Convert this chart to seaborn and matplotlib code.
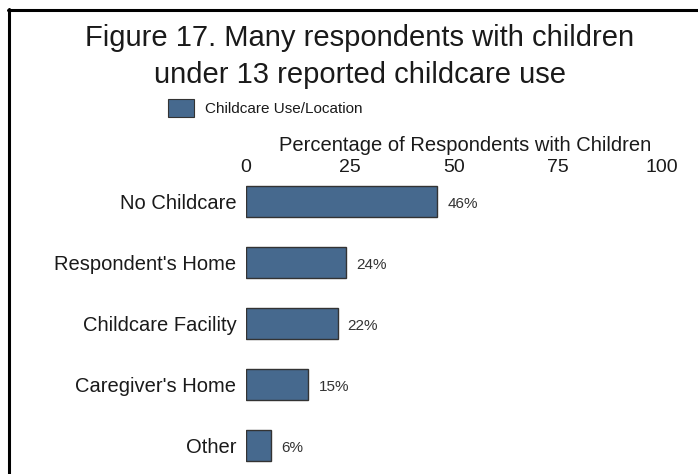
import matplotlib
matplotlib.use("Agg")
import matplotlib.pyplot as plt
from matplotlib.lines import Line2D
from matplotlib.patches import Patch
import seaborn as sns
import pandas as pd

categories = ["No Childcare", "Respondent's Home", "Childcare Facility",
              "Caregiver's Home", "Other"]
percentages = [46, 24, 22, 15, 6]
x_ticks = [0, 25, 50, 75, 100]

title_lines = ["Figure 17. Many respondents with children",
               "under 13 reported childcare use"]
legend_label = "Childcare Use/Location"
axis_label = "Percentage of Respondents with Children"

bar_color = "#46698e"
text_color = "#1a1a1a"

sns.set_theme(style="white")
plt.rcParams["font.family"] = ["Liberation Sans", "DejaVu Sans"]

df = pd.DataFrame({"category": categories, "pct": percentages})

W, H = 698, 474
fig = plt.figure(figsize=(W / 100, H / 100), dpi=100)
ax = fig.add_axes([246 / W, 1 - 470 / H, (662 - 246) / W, (470 - 180) / H])

sns.barplot(data=df, x="pct", y="category", orient="h", color=bar_color,
            width=0.5, edgecolor="#333333", linewidth=1.0, saturation=1,
            ax=ax)

ax.set_xlim(0, 100)
ax.set_ylim(4.4, -0.35)
ax.xaxis.tick_top()
ax.xaxis.set_label_position("top")
ax.set_xticks(x_ticks)
ax.set_xticklabels([str(t) for t in x_ticks], fontsize=14, color=text_color)
ax.tick_params(axis="x", length=0, pad=3)
ax.tick_params(axis="y", length=0, pad=7, labelsize=14.5,
               labelcolor=text_color)
ax.set_xlabel(axis_label, fontsize=14.5, color=text_color, labelpad=1)
ax.xaxis.set_label_coords(0.5 + 11 / 416, 1 + 29 / 290)
ax.set_ylabel("")
for s in ax.spines.values():
    s.set_visible(False)
ax.grid(False)

for i, v in enumerate(percentages):
    ax.text(v + 2.4, i + 0.04, f"{v}%", va="center", ha="left",
            fontsize=11, color="#333333")

for y_px, line in zip([38, 75], title_lines):
    fig.text(360 / W, 1 - y_px / H, line, ha="center", va="center",
             fontsize=21, color=text_color)

fig.legend(handles=[Patch(facecolor=bar_color, edgecolor="#333333",
                          linewidth=0.8, label=legend_label)],
           loc="center", bbox_to_anchor=(265 / W, 1 - 108 / H), frameon=False,
           fontsize=11, handlelength=1.7, handleheight=1.4,
           handletextpad=0.7, labelcolor=text_color)

# box edges around the figure
fig.add_artist(Line2D([8 / W, 1.0], [1 - 10 / H, 1 - 10 / H], color="black",
                      linewidth=2.2, transform=fig.transFigure))
fig.add_artist(Line2D([9 / W, 9 / W], [0.0, 1 - 9 / H], color="black",
                      linewidth=2.2, transform=fig.transFigure))

fig.savefig("out.png", dpi=100, facecolor="white")
